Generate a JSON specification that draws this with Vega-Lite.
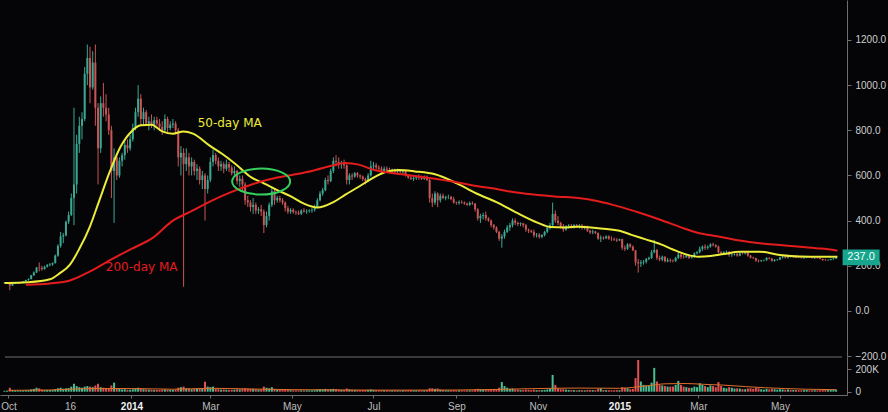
{
"$schema": "https://vega.github.io/schema/vega-lite/v6.json",
"width": 847, "height": 395,
"autosize": {"type": "none"},
"padding": {"left": 0, "top": 0, "right": 41, "bottom": 17},
"background": "#050508",
"config": {"view": {"stroke": null}, "axis": {"grid": false, "domainColor": "#6e6e6e", "tickColor": "#6e6e6e", "labelColor": "#cfcfcf", "labelFont": "Liberation Sans", "labelFontSize": 10}},
"datasets": {
"candles": [
{"t":"2013-09-28","o":124,"h":127,"l":122,"c":125,"v":8},
{"t":"2013-09-30","o":125,"h":128,"l":123,"c":126,"v":10},
{"t":"2013-10-02","o":126,"h":127,"l":92,"c":112,"v":35},
{"t":"2013-10-04","o":112,"h":124,"l":110,"c":122,"v":15},
{"t":"2013-10-06","o":122,"h":125,"l":119,"c":123,"v":8},
{"t":"2013-10-08","o":123,"h":126,"l":121,"c":124,"v":8},
{"t":"2013-10-10","o":124,"h":127,"l":122,"c":126,"v":9},
{"t":"2013-10-12","o":126,"h":132,"l":125,"c":131,"v":10},
{"t":"2013-10-14","o":131,"h":138,"l":130,"c":137,"v":12},
{"t":"2013-10-16","o":137,"h":144,"l":134,"c":141,"v":14},
{"t":"2013-10-18","o":141,"h":160,"l":140,"c":158,"v":20},
{"t":"2013-10-20","o":158,"h":175,"l":155,"c":170,"v":25},
{"t":"2013-10-22","o":170,"h":195,"l":168,"c":192,"v":35},
{"t":"2013-10-24","o":192,"h":215,"l":175,"c":190,"v":30},
{"t":"2013-10-26","o":190,"h":200,"l":178,"c":185,"v":18},
{"t":"2013-10-28","o":185,"h":200,"l":183,"c":196,"v":14},
{"t":"2013-10-30","o":196,"h":208,"l":192,"c":203,"v":15},
{"t":"2013-11-01","o":203,"h":212,"l":198,"c":206,"v":14},
{"t":"2013-11-03","o":206,"h":215,"l":200,"c":212,"v":15},
{"t":"2013-11-05","o":212,"h":250,"l":210,"c":245,"v":22},
{"t":"2013-11-07","o":245,"h":295,"l":240,"c":288,"v":30},
{"t":"2013-11-09","o":288,"h":350,"l":280,"c":330,"v":35},
{"t":"2013-11-11","o":330,"h":345,"l":300,"c":335,"v":25},
{"t":"2013-11-13","o":335,"h":400,"l":330,"c":395,"v":30},
{"t":"2013-11-15","o":395,"h":440,"l":385,"c":425,"v":32},
{"t":"2013-11-17","o":425,"h":520,"l":420,"c":500,"v":45},
{"t":"2013-11-19","o":500,"h":900,"l":380,"c":560,"v":70},
{"t":"2013-11-21","o":560,"h":780,"l":520,"c":740,"v":50},
{"t":"2013-11-23","o":740,"h":860,"l":700,"c":820,"v":40},
{"t":"2013-11-25","o":820,"h":880,"l":760,"c":850,"v":35},
{"t":"2013-11-27","o":850,"h":1080,"l":840,"c":1050,"v":45},
{"t":"2013-11-29","o":1050,"h":1180,"l":1000,"c":1120,"v":50},
{"t":"2013-12-01","o":1120,"h":1170,"l":920,"c":990,"v":45},
{"t":"2013-12-03","o":990,"h":1150,"l":980,"c":1100,"v":40},
{"t":"2013-12-05","o":1100,"h":1180,"l":820,"c":900,"v":55},
{"t":"2013-12-07","o":900,"h":920,"l":560,"c":720,"v":70},
{"t":"2013-12-09","o":720,"h":950,"l":700,"c":920,"v":40},
{"t":"2013-12-11","o":920,"h":1010,"l":860,"c":900,"v":35},
{"t":"2013-12-13","o":900,"h":960,"l":840,"c":870,"v":30},
{"t":"2013-12-15","o":870,"h":900,"l":780,"c":800,"v":30},
{"t":"2013-12-17","o":800,"h":820,"l":500,"c":620,"v":55},
{"t":"2013-12-19","o":620,"h":720,"l":390,"c":680,"v":80},
{"t":"2013-12-21","o":680,"h":700,"l":580,"c":600,"v":30},
{"t":"2013-12-23","o":600,"h":680,"l":590,"c":665,"v":25},
{"t":"2013-12-25","o":665,"h":700,"l":640,"c":690,"v":20},
{"t":"2013-12-27","o":690,"h":760,"l":670,"c":735,"v":22},
{"t":"2013-12-29","o":735,"h":760,"l":700,"c":720,"v":18},
{"t":"2013-12-31","o":720,"h":780,"l":710,"c":760,"v":18},
{"t":"2014-01-02","o":760,"h":830,"l":750,"c":810,"v":22},
{"t":"2014-01-04","o":810,"h":900,"l":800,"c":880,"v":25},
{"t":"2014-01-06","o":880,"h":1000,"l":860,"c":940,"v":35},
{"t":"2014-01-08","o":940,"h":960,"l":820,"c":850,"v":30},
{"t":"2014-01-10","o":850,"h":900,"l":820,"c":880,"v":22},
{"t":"2014-01-12","o":880,"h":890,"l":820,"c":830,"v":20},
{"t":"2014-01-14","o":830,"h":860,"l":800,"c":840,"v":18},
{"t":"2014-01-16","o":840,"h":870,"l":810,"c":820,"v":18},
{"t":"2014-01-18","o":820,"h":860,"l":800,"c":845,"v":15},
{"t":"2014-01-20","o":845,"h":860,"l":820,"c":830,"v":15},
{"t":"2014-01-22","o":830,"h":850,"l":800,"c":815,"v":15},
{"t":"2014-01-24","o":815,"h":840,"l":780,"c":800,"v":18},
{"t":"2014-01-26","o":800,"h":870,"l":790,"c":850,"v":20},
{"t":"2014-01-28","o":850,"h":860,"l":790,"c":810,"v":18},
{"t":"2014-01-30","o":810,"h":840,"l":800,"c":825,"v":15},
{"t":"2014-02-01","o":825,"h":850,"l":810,"c":830,"v":15},
{"t":"2014-02-03","o":830,"h":840,"l":790,"c":800,"v":18},
{"t":"2014-02-05","o":800,"h":810,"l":640,"c":680,"v":35},
{"t":"2014-02-07","o":680,"h":730,"l":600,"c":700,"v":40},
{"t":"2014-02-09","o":700,"h":720,"l":107,"c":650,"v":45},
{"t":"2014-02-11","o":650,"h":720,"l":620,"c":680,"v":30},
{"t":"2014-02-13","o":680,"h":700,"l":600,"c":640,"v":28},
{"t":"2014-02-15","o":640,"h":680,"l":600,"c":660,"v":22},
{"t":"2014-02-17","o":660,"h":670,"l":600,"c":620,"v":25},
{"t":"2014-02-19","o":620,"h":650,"l":580,"c":630,"v":25},
{"t":"2014-02-21","o":630,"h":640,"l":560,"c":580,"v":30},
{"t":"2014-02-23","o":580,"h":620,"l":540,"c":600,"v":30},
{"t":"2014-02-25","o":600,"h":610,"l":400,"c":540,"v":88},
{"t":"2014-02-27","o":540,"h":600,"l":520,"c":580,"v":45},
{"t":"2014-03-01","o":580,"h":680,"l":570,"c":660,"v":40},
{"t":"2014-03-03","o":660,"h":715,"l":640,"c":690,"v":45},
{"t":"2014-03-05","o":690,"h":700,"l":650,"c":665,"v":25},
{"t":"2014-03-07","o":665,"h":680,"l":620,"c":640,"v":22},
{"t":"2014-03-09","o":640,"h":665,"l":620,"c":650,"v":18},
{"t":"2014-03-11","o":650,"h":660,"l":610,"c":630,"v":20},
{"t":"2014-03-13","o":630,"h":670,"l":620,"c":650,"v":18},
{"t":"2014-03-15","o":650,"h":660,"l":615,"c":635,"v":16},
{"t":"2014-03-17","o":635,"h":645,"l":600,"c":610,"v":18},
{"t":"2014-03-19","o":610,"h":640,"l":595,"c":620,"v":18},
{"t":"2014-03-21","o":620,"h":625,"l":560,"c":575,"v":22},
{"t":"2014-03-23","o":575,"h":600,"l":550,"c":585,"v":20},
{"t":"2014-03-25","o":585,"h":600,"l":530,"c":560,"v":25},
{"t":"2014-03-27","o":560,"h":570,"l":470,"c":490,"v":30},
{"t":"2014-03-29","o":490,"h":510,"l":460,"c":480,"v":25},
{"t":"2014-03-31","o":480,"h":490,"l":440,"c":460,"v":25},
{"t":"2014-04-02","o":460,"h":500,"l":430,"c":470,"v":25},
{"t":"2014-04-04","o":470,"h":480,"l":430,"c":445,"v":22},
{"t":"2014-04-06","o":445,"h":460,"l":430,"c":450,"v":18},
{"t":"2014-04-08","o":450,"h":470,"l":420,"c":440,"v":20},
{"t":"2014-04-10","o":440,"h":450,"l":345,"c":380,"v":45},
{"t":"2014-04-12","o":380,"h":440,"l":370,"c":420,"v":35},
{"t":"2014-04-14","o":420,"h":480,"l":400,"c":470,"v":30},
{"t":"2014-04-16","o":470,"h":550,"l":460,"c":530,"v":40},
{"t":"2014-04-18","o":530,"h":540,"l":470,"c":490,"v":25},
{"t":"2014-04-20","o":490,"h":510,"l":480,"c":500,"v":18},
{"t":"2014-04-22","o":500,"h":510,"l":480,"c":490,"v":16},
{"t":"2014-04-24","o":490,"h":500,"l":470,"c":480,"v":15},
{"t":"2014-04-26","o":480,"h":485,"l":440,"c":455,"v":18},
{"t":"2014-04-28","o":455,"h":465,"l":430,"c":440,"v":16},
{"t":"2014-04-30","o":440,"h":455,"l":430,"c":448,"v":14},
{"t":"2014-05-02","o":448,"h":455,"l":430,"c":438,"v":12},
{"t":"2014-05-04","o":438,"h":445,"l":425,"c":435,"v":12},
{"t":"2014-05-06","o":435,"h":445,"l":425,"c":430,"v":12},
{"t":"2014-05-08","o":430,"h":450,"l":425,"c":445,"v":13},
{"t":"2014-05-10","o":445,"h":455,"l":435,"c":440,"v":12},
{"t":"2014-05-12","o":440,"h":450,"l":430,"c":442,"v":12},
{"t":"2014-05-14","o":442,"h":450,"l":435,"c":445,"v":12},
{"t":"2014-05-16","o":445,"h":455,"l":435,"c":448,"v":12},
{"t":"2014-05-18","o":448,"h":470,"l":440,"c":460,"v":14},
{"t":"2014-05-20","o":460,"h":500,"l":455,"c":490,"v":20},
{"t":"2014-05-22","o":490,"h":530,"l":485,"c":520,"v":22},
{"t":"2014-05-24","o":520,"h":545,"l":510,"c":535,"v":20},
{"t":"2014-05-26","o":535,"h":590,"l":530,"c":580,"v":25},
{"t":"2014-05-28","o":580,"h":600,"l":560,"c":575,"v":20},
{"t":"2014-05-30","o":575,"h":630,"l":570,"c":620,"v":22},
{"t":"2014-06-01","o":620,"h":680,"l":610,"c":665,"v":25},
{"t":"2014-06-03","o":665,"h":690,"l":640,"c":660,"v":22},
{"t":"2014-06-05","o":660,"h":680,"l":630,"c":650,"v":18},
{"t":"2014-06-07","o":650,"h":665,"l":630,"c":655,"v":15},
{"t":"2014-06-09","o":655,"h":670,"l":630,"c":645,"v":15},
{"t":"2014-06-11","o":645,"h":650,"l":560,"c":580,"v":28},
{"t":"2014-06-13","o":580,"h":610,"l":560,"c":600,"v":20},
{"t":"2014-06-15","o":600,"h":610,"l":580,"c":595,"v":15},
{"t":"2014-06-17","o":595,"h":615,"l":590,"c":610,"v":14},
{"t":"2014-06-19","o":610,"h":615,"l":590,"c":600,"v":14},
{"t":"2014-06-21","o":600,"h":605,"l":585,"c":595,"v":12},
{"t":"2014-06-23","o":595,"h":600,"l":575,"c":585,"v":14},
{"t":"2014-06-25","o":585,"h":590,"l":560,"c":575,"v":15},
{"t":"2014-06-27","o":575,"h":610,"l":570,"c":600,"v":16},
{"t":"2014-06-29","o":600,"h":665,"l":595,"c":640,"v":20},
{"t":"2014-07-01","o":640,"h":660,"l":625,"c":645,"v":16},
{"t":"2014-07-03","o":645,"h":655,"l":625,"c":635,"v":14},
{"t":"2014-07-05","o":635,"h":645,"l":620,"c":630,"v":12},
{"t":"2014-07-07","o":630,"h":640,"l":610,"c":620,"v":14},
{"t":"2014-07-09","o":620,"h":640,"l":615,"c":630,"v":13},
{"t":"2014-07-11","o":630,"h":640,"l":615,"c":625,"v":12},
{"t":"2014-07-13","o":625,"h":635,"l":610,"c":620,"v":12},
{"t":"2014-07-15","o":620,"h":630,"l":610,"c":625,"v":12},
{"t":"2014-07-17","o":625,"h":630,"l":605,"c":615,"v":12},
{"t":"2014-07-19","o":615,"h":630,"l":610,"c":625,"v":11},
{"t":"2014-07-21","o":625,"h":628,"l":610,"c":615,"v":11},
{"t":"2014-07-23","o":615,"h":625,"l":605,"c":620,"v":12},
{"t":"2014-07-25","o":620,"h":622,"l":595,"c":600,"v":13},
{"t":"2014-07-27","o":600,"h":605,"l":585,"c":590,"v":13},
{"t":"2014-07-29","o":590,"h":600,"l":580,"c":585,"v":14},
{"t":"2014-07-31","o":585,"h":595,"l":575,"c":590,"v":12},
{"t":"2014-08-02","o":590,"h":600,"l":580,"c":595,"v":12},
{"t":"2014-08-04","o":595,"h":605,"l":580,"c":590,"v":12},
{"t":"2014-08-06","o":590,"h":600,"l":580,"c":585,"v":12},
{"t":"2014-08-08","o":585,"h":600,"l":580,"c":595,"v":12},
{"t":"2014-08-10","o":595,"h":600,"l":575,"c":580,"v":14},
{"t":"2014-08-12","o":580,"h":585,"l":480,"c":500,"v":30},
{"t":"2014-08-14","o":500,"h":520,"l":460,"c":480,"v":30},
{"t":"2014-08-16","o":480,"h":530,"l":470,"c":520,"v":25},
{"t":"2014-08-18","o":520,"h":525,"l":460,"c":490,"v":28},
{"t":"2014-08-20","o":490,"h":520,"l":480,"c":510,"v":18},
{"t":"2014-08-22","o":510,"h":520,"l":495,"c":500,"v":14},
{"t":"2014-08-24","o":500,"h":510,"l":490,"c":505,"v":12},
{"t":"2014-08-26","o":505,"h":515,"l":495,"c":505,"v":12},
{"t":"2014-08-28","o":505,"h":510,"l":490,"c":495,"v":12},
{"t":"2014-08-30","o":495,"h":505,"l":475,"c":480,"v":14},
{"t":"2014-09-01","o":480,"h":485,"l":470,"c":478,"v":12},
{"t":"2014-09-03","o":478,"h":490,"l":470,"c":482,"v":12},
{"t":"2014-09-05","o":482,"h":490,"l":475,"c":480,"v":12},
{"t":"2014-09-07","o":480,"h":485,"l":470,"c":475,"v":11},
{"t":"2014-09-09","o":475,"h":480,"l":465,"c":470,"v":12},
{"t":"2014-09-11","o":470,"h":485,"l":465,"c":478,"v":12},
{"t":"2014-09-13","o":478,"h":485,"l":470,"c":475,"v":12},
{"t":"2014-09-15","o":475,"h":478,"l":440,"c":450,"v":18},
{"t":"2014-09-17","o":450,"h":455,"l":400,"c":410,"v":25},
{"t":"2014-09-19","o":410,"h":430,"l":390,"c":420,"v":22},
{"t":"2014-09-21","o":420,"h":435,"l":405,"c":425,"v":16},
{"t":"2014-09-23","o":425,"h":440,"l":400,"c":410,"v":18},
{"t":"2014-09-25","o":410,"h":415,"l":395,"c":400,"v":15},
{"t":"2014-09-27","o":400,"h":405,"l":370,"c":380,"v":18},
{"t":"2014-09-29","o":380,"h":385,"l":360,"c":370,"v":20},
{"t":"2014-10-01","o":370,"h":375,"l":345,"c":350,"v":22},
{"t":"2014-10-03","o":350,"h":355,"l":310,"c":320,"v":35},
{"t":"2014-10-05","o":320,"h":340,"l":280,"c":330,"v":85},
{"t":"2014-10-07","o":330,"h":360,"l":320,"c":350,"v":50},
{"t":"2014-10-09","o":350,"h":380,"l":345,"c":370,"v":35},
{"t":"2014-10-11","o":370,"h":390,"l":355,"c":380,"v":25},
{"t":"2014-10-13","o":380,"h":410,"l":370,"c":400,"v":28},
{"t":"2014-10-15","o":400,"h":410,"l":380,"c":390,"v":20},
{"t":"2014-10-17","o":390,"h":395,"l":375,"c":385,"v":18},
{"t":"2014-10-19","o":385,"h":392,"l":375,"c":388,"v":14},
{"t":"2014-10-21","o":388,"h":390,"l":370,"c":380,"v":14},
{"t":"2014-10-23","o":380,"h":385,"l":350,"c":360,"v":18},
{"t":"2014-10-25","o":360,"h":365,"l":345,"c":355,"v":16},
{"t":"2014-10-27","o":355,"h":360,"l":345,"c":350,"v":14},
{"t":"2014-10-29","o":350,"h":360,"l":325,"c":335,"v":18},
{"t":"2014-10-31","o":335,"h":345,"l":325,"c":338,"v":14},
{"t":"2014-11-02","o":338,"h":345,"l":320,"c":328,"v":14},
{"t":"2014-11-04","o":328,"h":340,"l":322,"c":336,"v":14},
{"t":"2014-11-06","o":336,"h":355,"l":330,"c":350,"v":16},
{"t":"2014-11-08","o":350,"h":375,"l":345,"c":370,"v":20},
{"t":"2014-11-10","o":370,"h":390,"l":360,"c":380,"v":25},
{"t":"2014-11-12","o":380,"h":480,"l":375,"c":430,"v":148},
{"t":"2014-11-14","o":430,"h":445,"l":390,"c":400,"v":60},
{"t":"2014-11-16","o":400,"h":420,"l":380,"c":390,"v":30},
{"t":"2014-11-18","o":390,"h":395,"l":365,"c":375,"v":22},
{"t":"2014-11-20","o":375,"h":385,"l":350,"c":360,"v":22},
{"t":"2014-11-22","o":360,"h":380,"l":355,"c":375,"v":18},
{"t":"2014-11-24","o":375,"h":385,"l":365,"c":378,"v":16},
{"t":"2014-11-26","o":378,"h":385,"l":365,"c":370,"v":14},
{"t":"2014-11-28","o":370,"h":385,"l":365,"c":380,"v":14},
{"t":"2014-11-30","o":380,"h":385,"l":370,"c":375,"v":12},
{"t":"2014-12-02","o":375,"h":385,"l":365,"c":378,"v":14},
{"t":"2014-12-04","o":378,"h":385,"l":360,"c":368,"v":14},
{"t":"2014-12-06","o":368,"h":378,"l":360,"c":372,"v":12},
{"t":"2014-12-08","o":372,"h":378,"l":350,"c":355,"v":16},
{"t":"2014-12-10","o":355,"h":360,"l":340,"c":348,"v":15},
{"t":"2014-12-12","o":348,"h":360,"l":340,"c":352,"v":14},
{"t":"2014-12-14","o":352,"h":355,"l":340,"c":345,"v":13},
{"t":"2014-12-16","o":345,"h":348,"l":315,"c":320,"v":25},
{"t":"2014-12-18","o":320,"h":335,"l":305,"c":325,"v":30},
{"t":"2014-12-20","o":325,"h":330,"l":315,"c":322,"v":15},
{"t":"2014-12-22","o":322,"h":335,"l":318,"c":330,"v":14},
{"t":"2014-12-24","o":330,"h":335,"l":315,"c":320,"v":14},
{"t":"2014-12-26","o":320,"h":330,"l":310,"c":318,"v":13},
{"t":"2014-12-28","o":318,"h":325,"l":310,"c":315,"v":13},
{"t":"2014-12-30","o":315,"h":322,"l":305,"c":312,"v":14},
{"t":"2015-01-01","o":312,"h":320,"l":310,"c":318,"v":14},
{"t":"2015-01-03","o":318,"h":320,"l":270,"c":280,"v":40},
{"t":"2015-01-05","o":280,"h":290,"l":265,"c":275,"v":35},
{"t":"2015-01-07","o":275,"h":300,"l":270,"c":295,"v":30},
{"t":"2015-01-09","o":295,"h":300,"l":280,"c":285,"v":22},
{"t":"2015-01-11","o":285,"h":290,"l":265,"c":268,"v":25},
{"t":"2015-01-13","o":268,"h":270,"l":200,"c":215,"v":120},
{"t":"2015-01-15","o":215,"h":230,"l":170,"c":210,"v":280},
{"t":"2015-01-17","o":210,"h":225,"l":195,"c":215,"v":90},
{"t":"2015-01-19","o":215,"h":225,"l":205,"c":218,"v":60},
{"t":"2015-01-21","o":218,"h":235,"l":210,"c":230,"v":55},
{"t":"2015-01-23","o":230,"h":240,"l":225,"c":235,"v":50},
{"t":"2015-01-25","o":235,"h":270,"l":230,"c":260,"v":80},
{"t":"2015-01-27","o":260,"h":315,"l":255,"c":270,"v":210},
{"t":"2015-01-29","o":270,"h":275,"l":225,"c":235,"v":90},
{"t":"2015-01-31","o":235,"h":245,"l":220,"c":228,"v":60},
{"t":"2015-02-02","o":228,"h":245,"l":220,"c":240,"v":55},
{"t":"2015-02-04","o":240,"h":242,"l":215,"c":220,"v":50},
{"t":"2015-02-06","o":220,"h":235,"l":215,"c":225,"v":45},
{"t":"2015-02-08","o":225,"h":232,"l":215,"c":222,"v":45},
{"t":"2015-02-10","o":222,"h":228,"l":215,"c":220,"v":45},
{"t":"2015-02-12","o":220,"h":240,"l":218,"c":235,"v":60},
{"t":"2015-02-14","o":235,"h":260,"l":230,"c":250,"v":95},
{"t":"2015-02-16","o":250,"h":255,"l":230,"c":240,"v":60},
{"t":"2015-02-18","o":240,"h":248,"l":232,"c":238,"v":45},
{"t":"2015-02-20","o":238,"h":250,"l":235,"c":245,"v":40},
{"t":"2015-02-22","o":245,"h":248,"l":230,"c":235,"v":35},
{"t":"2015-02-24","o":235,"h":245,"l":232,"c":240,"v":35},
{"t":"2015-02-26","o":240,"h":260,"l":235,"c":255,"v":45},
{"t":"2015-02-28","o":255,"h":265,"l":250,"c":260,"v":40},
{"t":"2015-03-02","o":260,"h":285,"l":255,"c":275,"v":75},
{"t":"2015-03-04","o":275,"h":290,"l":265,"c":285,"v":60},
{"t":"2015-03-06","o":285,"h":295,"l":270,"c":280,"v":50},
{"t":"2015-03-08","o":280,"h":290,"l":272,"c":285,"v":40},
{"t":"2015-03-10","o":285,"h":300,"l":280,"c":295,"v":55},
{"t":"2015-03-12","o":295,"h":302,"l":285,"c":292,"v":50},
{"t":"2015-03-14","o":292,"h":295,"l":280,"c":285,"v":40},
{"t":"2015-03-16","o":285,"h":290,"l":255,"c":260,"v":85},
{"t":"2015-03-18","o":260,"h":265,"l":248,"c":255,"v":50},
{"t":"2015-03-20","o":255,"h":265,"l":250,"c":260,"v":35},
{"t":"2015-03-22","o":260,"h":268,"l":255,"c":262,"v":30},
{"t":"2015-03-24","o":262,"h":265,"l":240,"c":248,"v":40},
{"t":"2015-03-26","o":248,"h":255,"l":240,"c":250,"v":35},
{"t":"2015-03-28","o":250,"h":255,"l":245,"c":252,"v":28},
{"t":"2015-03-30","o":252,"h":258,"l":240,"c":245,"v":30},
{"t":"2015-04-01","o":245,"h":260,"l":242,"c":255,"v":28},
{"t":"2015-04-03","o":255,"h":258,"l":250,"c":254,"v":22},
{"t":"2015-04-05","o":254,"h":262,"l":250,"c":258,"v":22},
{"t":"2015-04-07","o":258,"h":260,"l":240,"c":245,"v":28},
{"t":"2015-04-09","o":245,"h":248,"l":232,"c":236,"v":30},
{"t":"2015-04-11","o":236,"h":240,"l":230,"c":234,"v":25},
{"t":"2015-04-13","o":234,"h":236,"l":218,"c":222,"v":35},
{"t":"2015-04-15","o":222,"h":228,"l":215,"c":220,"v":30},
{"t":"2015-04-17","o":220,"h":226,"l":218,"c":224,"v":22},
{"t":"2015-04-19","o":224,"h":228,"l":220,"c":225,"v":18},
{"t":"2015-04-21","o":225,"h":238,"l":222,"c":235,"v":25},
{"t":"2015-04-23","o":235,"h":238,"l":228,"c":232,"v":20},
{"t":"2015-04-25","o":232,"h":234,"l":218,"c":222,"v":25},
{"t":"2015-04-27","o":222,"h":230,"l":218,"c":226,"v":22},
{"t":"2015-04-29","o":226,"h":230,"l":222,"c":227,"v":18},
{"t":"2015-05-01","o":227,"h":240,"l":225,"c":237,"v":22},
{"t":"2015-05-03","o":237,"h":242,"l":232,"c":240,"v":20},
{"t":"2015-05-05","o":240,"h":242,"l":232,"c":236,"v":18},
{"t":"2015-05-07","o":236,"h":245,"l":232,"c":242,"v":20},
{"t":"2015-05-09","o":242,"h":246,"l":236,"c":240,"v":16},
{"t":"2015-05-11","o":240,"h":244,"l":236,"c":242,"v":15},
{"t":"2015-05-13","o":242,"h":245,"l":235,"c":238,"v":15},
{"t":"2015-05-15","o":238,"h":240,"l":234,"c":237,"v":13},
{"t":"2015-05-17","o":237,"h":240,"l":232,"c":234,"v":13},
{"t":"2015-05-19","o":234,"h":238,"l":230,"c":236,"v":14},
{"t":"2015-05-21","o":236,"h":242,"l":234,"c":240,"v":15},
{"t":"2015-05-23","o":240,"h":242,"l":236,"c":238,"v":12},
{"t":"2015-05-25","o":238,"h":240,"l":232,"c":234,"v":13},
{"t":"2015-05-27","o":234,"h":238,"l":230,"c":236,"v":14},
{"t":"2015-05-29","o":236,"h":238,"l":232,"c":234,"v":12},
{"t":"2015-05-31","o":234,"h":236,"l":228,"c":230,"v":13},
{"t":"2015-06-02","o":230,"h":232,"l":222,"c":226,"v":16},
{"t":"2015-06-04","o":226,"h":230,"l":222,"c":225,"v":15},
{"t":"2015-06-06","o":225,"h":228,"l":222,"c":226,"v":14},
{"t":"2015-06-08","o":226,"h":232,"l":224,"c":230,"v":15},
{"t":"2015-06-10","o":230,"h":234,"l":226,"c":232,"v":16},
{"t":"2015-06-12","o":232,"h":240,"l":230,"c":237,"v":18}
],
"ma": [
{"t":"2013-09-28","k":"ma50","p":124},{"t":"2013-10-01","k":"ma50","p":124},{"t":"2013-10-16","k":"ma50","p":127},{"t":"2013-11-01","k":"ma50","p":140},{"t":"2013-11-08","k":"ma50","p":165},{"t":"2013-11-16","k":"ma50","p":205},{"t":"2013-11-23","k":"ma50","p":275},{"t":"2013-12-01","k":"ma50","p":375},{"t":"2013-12-08","k":"ma50","p":490},{"t":"2013-12-16","k":"ma50","p":620},{"t":"2013-12-24","k":"ma50","p":729},{"t":"2014-01-01","k":"ma50","p":795},{"t":"2014-01-08","k":"ma50","p":822},{"t":"2014-01-16","k":"ma50","p":825},{"t":"2014-01-24","k":"ma50","p":795},{"t":"2014-02-01","k":"ma50","p":785},{"t":"2014-02-09","k":"ma50","p":795},{"t":"2014-02-16","k":"ma50","p":785},{"t":"2014-03-01","k":"ma50","p":730},{"t":"2014-03-10","k":"ma50","p":695},{"t":"2014-03-20","k":"ma50","p":650},{"t":"2014-04-01","k":"ma50","p":590},{"t":"2014-04-10","k":"ma50","p":565},{"t":"2014-04-20","k":"ma50","p":535},{"t":"2014-05-01","k":"ma50","p":505},{"t":"2014-05-10","k":"ma50","p":475},{"t":"2014-05-20","k":"ma50","p":458},{"t":"2014-06-01","k":"ma50","p":482},{"t":"2014-06-10","k":"ma50","p":515},{"t":"2014-06-20","k":"ma50","p":550},{"t":"2014-07-01","k":"ma50","p":590},{"t":"2014-07-10","k":"ma50","p":615},{"t":"2014-07-20","k":"ma50","p":624},{"t":"2014-08-01","k":"ma50","p":618},{"t":"2014-08-16","k":"ma50","p":605},{"t":"2014-09-01","k":"ma50","p":566},{"t":"2014-09-16","k":"ma50","p":520},{"t":"2014-10-01","k":"ma50","p":482},{"t":"2014-10-16","k":"ma50","p":435},{"t":"2014-11-01","k":"ma50","p":390},{"t":"2014-11-10","k":"ma50","p":372},{"t":"2014-11-22","k":"ma50","p":370},{"t":"2014-12-01","k":"ma50","p":373},{"t":"2014-12-16","k":"ma50","p":366},{"t":"2015-01-01","k":"ma50","p":355},{"t":"2015-01-10","k":"ma50","p":337},{"t":"2015-01-20","k":"ma50","p":318},{"t":"2015-02-01","k":"ma50","p":295},{"t":"2015-02-10","k":"ma50","p":272},{"t":"2015-02-20","k":"ma50","p":250},{"t":"2015-03-01","k":"ma50","p":240},{"t":"2015-03-10","k":"ma50","p":243},{"t":"2015-03-20","k":"ma50","p":252},{"t":"2015-04-01","k":"ma50","p":262},{"t":"2015-04-16","k":"ma50","p":262},{"t":"2015-05-01","k":"ma50","p":248},{"t":"2015-05-16","k":"ma50","p":241},{"t":"2015-06-01","k":"ma50","p":240},{"t":"2015-06-13","k":"ma50","p":240},
{"t":"2013-10-14","k":"ma200","p":116},{"t":"2013-11-01","k":"ma200","p":122},{"t":"2013-11-16","k":"ma200","p":135},{"t":"2013-12-01","k":"ma200","p":175},{"t":"2013-12-16","k":"ma200","p":225},{"t":"2014-01-01","k":"ma200","p":275},{"t":"2014-01-16","k":"ma200","p":320},{"t":"2014-02-01","k":"ma200","p":400},{"t":"2014-02-16","k":"ma200","p":445},{"t":"2014-03-01","k":"ma200","p":485},{"t":"2014-03-16","k":"ma200","p":525},{"t":"2014-04-01","k":"ma200","p":560},{"t":"2014-04-16","k":"ma200","p":585},{"t":"2014-05-01","k":"ma200","p":602},{"t":"2014-05-16","k":"ma200","p":620},{"t":"2014-06-01","k":"ma200","p":645},{"t":"2014-06-10","k":"ma200","p":655},{"t":"2014-06-20","k":"ma200","p":648},{"t":"2014-07-01","k":"ma200","p":625},{"t":"2014-07-16","k":"ma200","p":610},{"t":"2014-08-01","k":"ma200","p":598},{"t":"2014-08-16","k":"ma200","p":585},{"t":"2014-09-01","k":"ma200","p":570},{"t":"2014-09-16","k":"ma200","p":553},{"t":"2014-10-01","k":"ma200","p":540},{"t":"2014-10-16","k":"ma200","p":524},{"t":"2014-11-01","k":"ma200","p":513},{"t":"2014-11-16","k":"ma200","p":506},{"t":"2014-12-01","k":"ma200","p":500},{"t":"2014-12-16","k":"ma200","p":486},{"t":"2015-01-01","k":"ma200","p":462},{"t":"2015-01-16","k":"ma200","p":435},{"t":"2015-02-01","k":"ma200","p":403},{"t":"2015-02-16","k":"ma200","p":370},{"t":"2015-03-01","k":"ma200","p":345},{"t":"2015-03-16","k":"ma200","p":330},{"t":"2015-04-01","k":"ma200","p":312},{"t":"2015-04-16","k":"ma200","p":300},{"t":"2015-05-01","k":"ma200","p":292},{"t":"2015-05-16","k":"ma200","p":284},{"t":"2015-06-01","k":"ma200","p":276},{"t":"2015-06-13","k":"ma200","p":267}
],
"vma": [
{"t":"2013-10-01","v":12},{"t":"2013-11-01","v":15},{"t":"2013-12-01","v":28},{"t":"2014-01-01","v":28},{"t":"2014-02-01","v":22},{"t":"2014-03-01","v":30},{"t":"2014-04-01","v":24},{"t":"2014-05-01","v":18},{"t":"2014-06-01","v":16},{"t":"2014-07-01","v":14},{"t":"2014-08-01","v":14},{"t":"2014-09-01","v":15},{"t":"2014-10-01","v":20},{"t":"2014-11-01","v":28},{"t":"2014-12-01","v":32},{"t":"2015-01-01","v":30},{"t":"2015-01-20","v":50},{"t":"2015-02-05","v":70},{"t":"2015-02-20","v":72},{"t":"2015-03-05","v":65},{"t":"2015-03-20","v":58},{"t":"2015-04-05","v":45},{"t":"2015-04-20","v":35},{"t":"2015-05-05","v":28},{"t":"2015-05-20","v":22},{"t":"2015-06-12","v":18}
],
"notes": [
{"t":"2014-02-19T12:00:00Z","p":833,"label":"50-day MA","k":"ma50"},
{"t":"2013-12-12T19:00:00Z","p":193,"label":"200-day MA","k":"ma200"}
],
"circle": [{"t":"2014-04-08","p":573}],
"last": [{"t":"2015-06-12","p":237,"label":"237.0"}],
"edge": [{"t":"2013-09-28T10:00:00Z","t2":"2015-06-16T10:00:00Z","v":306}]
},
"encoding": {
"x": {"field": "t", "type": "temporal", "scale": {"type": "utc", "domain": ["2013-09-28T10:00:00Z", "2015-06-16T10:00:00Z"]},
 "axis": {"orient": "bottom", "title": null, "values": [{"year": 2013, "month": 10, "date": 1, "utc": true}, {"year": 2013, "month": 11, "date": 16, "utc": true}, {"year": 2014, "month": 1, "date": 1, "utc": true}, {"year": 2014, "month": 3, "date": 1, "utc": true}, {"year": 2014, "month": 5, "date": 1, "utc": true}, {"year": 2014, "month": 7, "date": 1, "utc": true}, {"year": 2014, "month": 9, "date": 1, "utc": true}, {"year": 2014, "month": 11, "date": 1, "utc": true}, {"year": 2015, "month": 1, "date": 1, "utc": true}, {"year": 2015, "month": 3, "date": 1, "utc": true}, {"year": 2015, "month": 5, "date": 1, "utc": true}],
  "labelExpr": "utcmonth(datum.value) == 0 ? utcFormat(datum.value, '%Y') : (utcdate(datum.value) == 16 ? '16' : utcFormat(datum.value, '%b'))",
  "labelFontWeight": {"condition": {"test": "utcmonth(datum.value) == 0", "value": "bold"}, "value": "normal"},
  "labelColor": {"condition": {"test": "utcmonth(datum.value) == 0", "value": "#f2f2f2"}, "value": "#bdbdbd"},
  "tickSize": 3, "labelPadding": 3, "labelFlush": false, "labelOverlap": false, "labelBound": false}}
},
"layer": [
{"data": {"name": "candles"}, "mark": {"type": "rule", "strokeWidth": 1},
 "encoding": {
  "y": {"field": "l", "type": "quantitative", "scale": {"domain": [-204, 1377], "range": [357, 0], "nice": false, "zero": false},
   "axis": {"orient": "right", "title": null, "values": [-200, 0, 200, 400, 600, 800, 1000, 1200], "format": ".1f", "tickSize": 4, "labelPadding": 4, "labelBound": false, "labelFlush": false, "labelOverlap": false}},
  "y2": {"field": "h"},
  "color": {"condition": {"test": "datum.c >= datum.o", "value": "#3aa893"}, "value": "#c95555"}}},
{"data": {"name": "candles"}, "mark": {"type": "bar", "size": 2},
 "encoding": {
  "y": {"field": "o", "type": "quantitative", "scale": {"domain": [-204, 1377], "range": [357, 0], "nice": false, "zero": false}, "axis": null},
  "y2": {"field": "c"},
  "color": {"condition": {"test": "datum.c >= datum.o", "value": "#3aa893"}, "value": "#c95555"}}},
{"data": {"name": "ma"}, "mark": {"type": "line", "strokeWidth": 2, "interpolate": "monotone"},
 "encoding": {
  "y": {"field": "p", "type": "quantitative", "scale": {"domain": [-204, 1377], "range": [357, 0], "nice": false, "zero": false}, "axis": null},
  "color": {"field": "k", "type": "nominal", "scale": {"domain": ["ma50", "ma200"], "range": ["#ecec3a", "#e41c1c"]}, "legend": null}}},
{"data": {"name": "notes"}, "mark": {"type": "text", "align": "left", "baseline": "middle", "font": "DejaVu Sans", "fontSize": 12},
 "encoding": {
  "y": {"field": "p", "type": "quantitative", "scale": {"domain": [-204, 1377], "range": [357, 0], "nice": false, "zero": false}, "axis": null},
  "text": {"field": "label"},
  "color": {"field": "k", "type": "nominal", "scale": {"domain": ["ma50", "ma200"], "range": ["#d8d23e", "#d42626"]}, "legend": null}}},
{"data": {"name": "circle"}, "mark": {"type": "point", "shape": "M-1,0A1,0.448,0,1,0,1,0A1,0.448,0,1,0,-1,0Z", "size": 3364, "filled": false, "stroke": "#34d05c", "strokeWidth": 2, "opacity": 1},
 "encoding": {
  "y": {"field": "p", "type": "quantitative", "scale": {"domain": [-204, 1377], "range": [357, 0], "nice": false, "zero": false}, "axis": null}}},
{"data": {"name": "candles"}, "mark": {"type": "bar", "size": 2},
 "encoding": {
  "y": {"field": "v", "type": "quantitative", "scale": {"domain": [-29, 306], "range": [395, 357], "nice": false, "zero": false},
   "axis": {"orient": "right", "title": null, "values": [0, 200], "labelExpr": "datum.value == 0 ? '0' : datum.value + 'K'", "tickSize": 4, "labelPadding": 4, "labelBound": false, "labelFlush": false, "labelOverlap": false}},
  "y2": {"datum": 0},
  "color": {"condition": {"test": "datum.c >= datum.o", "value": "#4cbf92"}, "value": "#e25252"}}},
{"data": {"name": "vma"}, "mark": {"type": "line", "strokeWidth": 1, "color": "#e0702c", "interpolate": "monotone"},
 "encoding": {
  "y": {"field": "v", "type": "quantitative", "scale": {"domain": [-29, 306], "range": [395, 357], "nice": false, "zero": false}, "axis": null}}},
{"data": {"name": "edge"}, "mark": {"type": "rule", "color": "#6e6e6e", "strokeWidth": 1},
 "encoding": {
  "x2": {"field": "t2"},
  "y": {"field": "v", "type": "quantitative", "scale": {"domain": [-29, 306], "range": [395, 357], "nice": false, "zero": false}, "axis": null}}},
{"data": {"name": "last"}, "mark": {"type": "point", "shape": "M-1,-0.43L1,-0.43L1,0.43L-1,0.43Z", "size": 1369, "filled": true, "fill": "#17a58e", "opacity": 1, "xOffset": 25},
 "encoding": {
  "y": {"field": "p", "type": "quantitative", "scale": {"domain": [-204, 1377], "range": [357, 0], "nice": false, "zero": false}, "axis": null}}},
{"data": {"name": "last"}, "mark": {"type": "text", "align": "center", "baseline": "middle", "font": "Liberation Sans", "fontSize": 11, "color": "#effffa", "xOffset": 25},
 "encoding": {
  "y": {"field": "p", "type": "quantitative", "scale": {"domain": [-204, 1377], "range": [357, 0], "nice": false, "zero": false}, "axis": null},
  "text": {"field": "label"}}}
],
"resolve": {"scale": {"y": "independent"}, "axis": {"y": "independent"}}
}
